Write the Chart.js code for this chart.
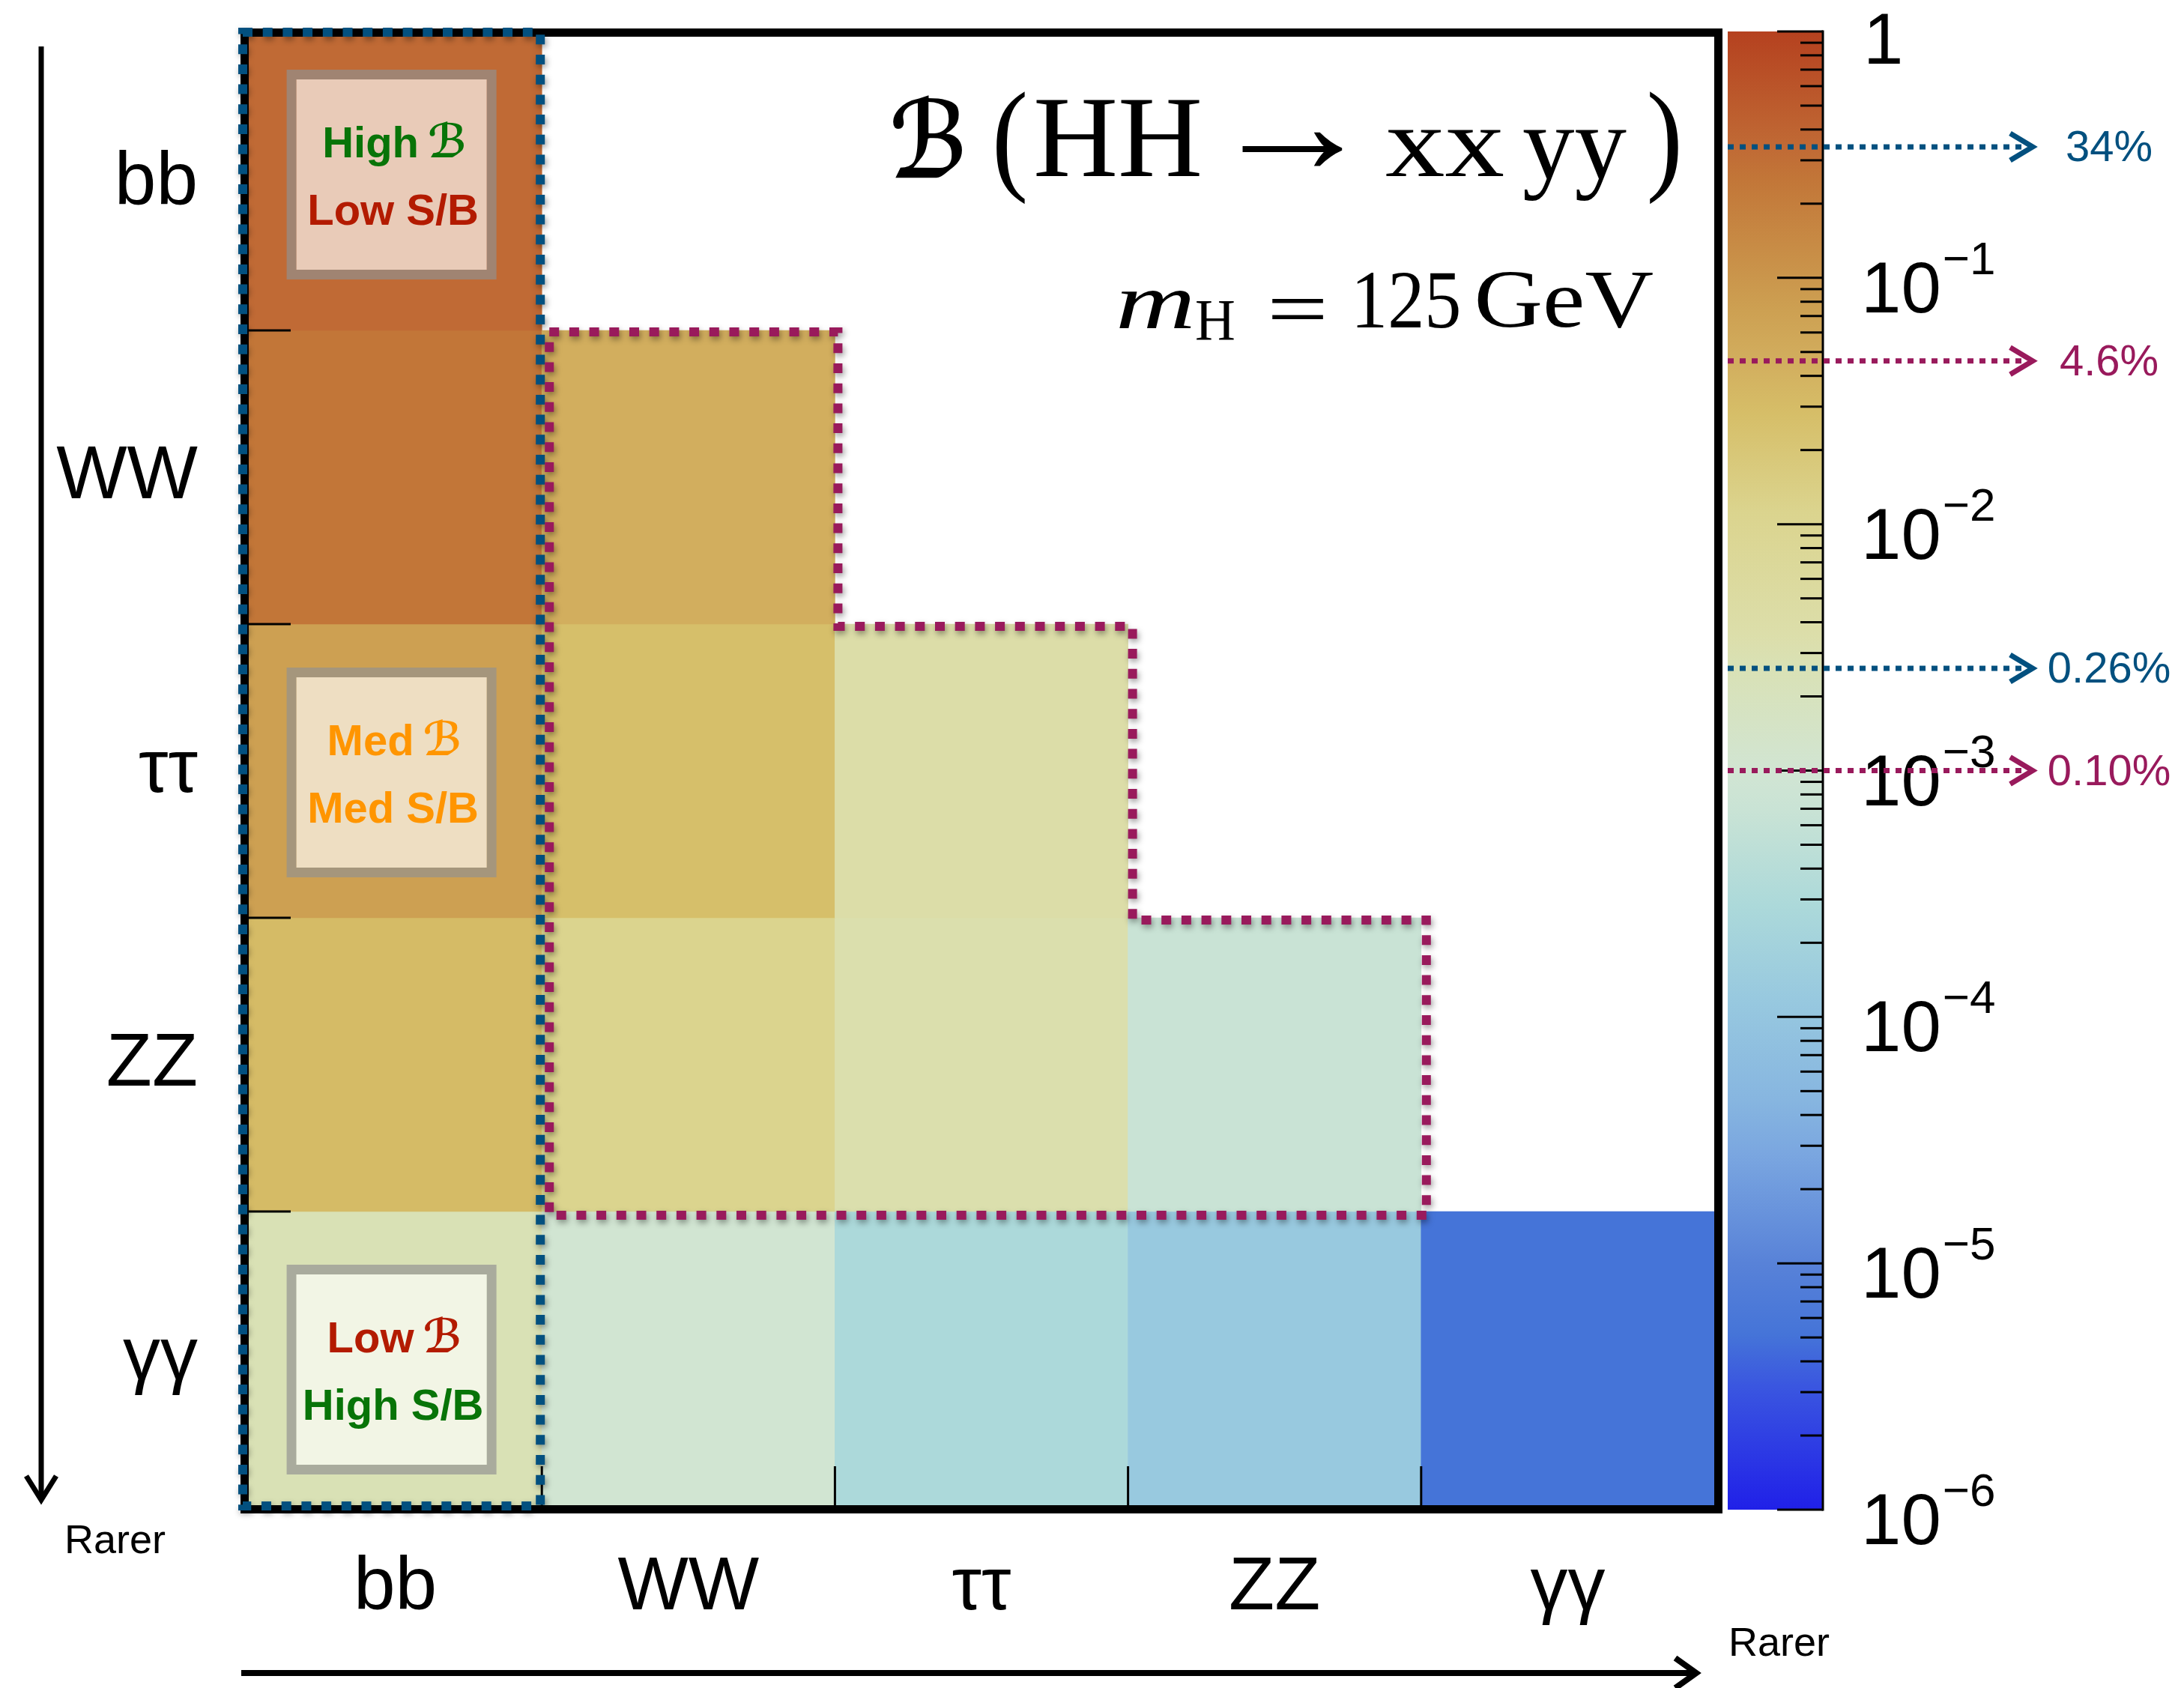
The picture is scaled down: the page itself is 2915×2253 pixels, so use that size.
<!DOCTYPE html>
<html>
<head>
<meta charset="utf-8">
<title>Branching ratios of HH → xx yy</title>
<script src="https://cdn.jsdelivr.net/npm/chart.js@4.4.1/dist/chart.umd.min.js"></script>
<style>
  html, body { margin: 0; padding: 0; background: #ffffff; }
  #wrap { position: relative; width: 2915px; height: 2253px; background: #ffffff; }
  #wrap canvas { position: absolute; left: 0; top: 0; }
</style>
</head>
<body>
<div id="wrap">
  <canvas id="matrix" width="2915" height="2253" style="width:2915px;height:2253px"></canvas>
  <canvas id="colorbar" width="2915" height="2253" style="width:2915px;height:2253px"></canvas>
</div>
<script>
// ---- data -------------------------------------------------------------
// decay channels of a single Higgs boson (columns and rows)
const decays = ['bb', 'WW', 'ττ', 'ZZ', 'γγ'];

// B(HH -> row decay + column decay); row i holds columns 0..i
const brRowBB     = [0.34];
const brRowWW     = [0.25, 0.046];
const brRowTauTau = [0.073, 0.027, 0.0039];
const brRowZZ     = [0.031, 0.011, 0.0033, 0.00069];
const brRowGamGam = [0.0026, 0.0010, 0.00028, 0.00012, 0.0000052];
const brRows = [brRowBB, brRowWW, brRowTauTau, brRowZZ, brRowGamGam];

// colour-bar decades (exponents of ten) and the marked values beside it
const colorbarDecades = [0, -1, -2, -3, -4, -5, -6];
const markerValues = [0.34, 0.046, 0.0026, 0.0010];
const markerLabels = ['34%', '4.6%', '0.26%', '0.10%'];

// notes written into the bb column
const noteRows   = [0, 2, 4];
const noteWords  = ['High', 'Med', 'Low'];
const noteSB     = ['Low S/B', 'Med S/B', 'High S/B'];

// ---- styling ----------------------------------------------------------
const SANS   = '"Liberation Sans", Arial, Helvetica, sans-serif';
const SERIF  = '"Liberation Serif", "Times New Roman", serif';
const SCRIPT = '"DejaVu Serif", "DejaVu Sans", serif';
const GREEN = '#087408', RED = '#b31b00', ORANGE = '#ff9500';
const BLUE_DOT = '#02507f', MAGENTA_DOT = '#991a5c';
const markerColors = [BLUE_DOT, MAGENTA_DOT, BLUE_DOT, MAGENTA_DOT];
const noteWordColor = [GREEN, ORANGE, RED];
const noteSBColor   = [RED, ORANGE, GREEN];
const noteShift     = [-12, 2, 15];

// colour map: log10(value) -> rgb
const cmapLog = [0, -0.47, -0.60, -1.13, -1.34, -1.55, -1.95, -2.45, -2.58, -3.01, -3.16, -3.55, -3.92, -4.33, -4.56, -5.0, -5.29, -5.5, -6.0];
const cmapRGB = [
  [181, 65, 31], [192, 106, 53], [194, 118, 56], [205, 160, 82], [210, 174, 94],
  [214, 190, 104], [219, 212, 142], [220, 222, 170], [217, 225, 181], [209, 229, 211],
  [201, 227, 213], [172, 217, 218], [152, 201, 223], [135, 182, 224], [122, 166, 224],
  [88, 130, 216], [69, 116, 216], [58, 86, 224], [32, 32, 232]
];
function rgbAtLog(l) {
  if (l >= cmapLog[0]) return cmapRGB[0];
  for (let i = 1; i < cmapLog.length; i++) {
    if (l >= cmapLog[i]) {
      const t = (cmapLog[i - 1] - l) / (cmapLog[i - 1] - cmapLog[i]);
      return cmapRGB[i - 1].map((c, k) => c + (cmapRGB[i][k] - c) * t);
    }
  }
  return cmapRGB[cmapRGB.length - 1];
}
function colorFor(v) {
  const c = rgbAtLog(Math.log10(v));
  return 'rgb(' + c.map(Math.round).join(',') + ')';
}

// draws text so that its inked extent fills the box x0..x1, y0..y1
function fitBox(ctx, text, x0, x1, y0, y1, font, color) {
  ctx.save();
  ctx.font = font;
  ctx.fillStyle = color;
  ctx.textAlign = 'left';
  ctx.textBaseline = 'alphabetic';
  const m = ctx.measureText(text);
  const w = m.actualBoundingBoxLeft + m.actualBoundingBoxRight;
  const h = m.actualBoundingBoxAscent + m.actualBoundingBoxDescent;
  ctx.translate(x0, y0);
  ctx.scale((x1 - x0) / w, (y1 - y0) / h);
  ctx.fillText(text, m.actualBoundingBoxLeft, m.actualBoundingBoxAscent);
  ctx.restore();
}

function arrowHead(ctx, tipX, tipY, dx, dy, halfW, len) {
  // open chevron pointing along (dx, dy)
  const px = -dy, py = dx;
  ctx.beginPath();
  ctx.moveTo(tipX - dx * len + px * halfW, tipY - dy * len + py * halfW);
  ctx.lineTo(tipX, tipY);
  ctx.lineTo(tipX - dx * len - px * halfW, tipY - dy * len - py * halfW);
  ctx.stroke();
}

// ---- matrix chart -----------------------------------------------------
const matrixDecor = {
  id: 'matrixDecor',
  afterDatasetsDraw(chart) {
    const ctx = chart.ctx;
    const a = chart.chartArea;
    const xs = chart.scales.x, ys = chart.scales.y;
    const colEdge = i => (xs.getPixelForValue(i - 1) + xs.getPixelForValue(i)) / 2;
    const colL = i => (i === 0 ? a.left : colEdge(i));
    const colR = i => (i === decays.length - 1 ? a.right : colEdge(i + 1));
    const rowY = v => ys.getPixelForValue(v);

    ctx.save();
    // inward tick marks at the cell boundaries
    ctx.strokeStyle = '#000';
    ctx.lineWidth = 3;
    for (let r = 1; r < decays.length; r++) {
      const y = rowY(r);
      ctx.beginPath(); ctx.moveTo(a.left, y); ctx.lineTo(a.left + 56, y); ctx.stroke();
    }
    for (let c = 1; c < decays.length; c++) {
      const x = colEdge(c);
      ctx.beginPath(); ctx.moveTo(x, a.bottom); ctx.lineTo(x, a.bottom - 52); ctx.stroke();
    }
    // frame
    ctx.lineWidth = 11;
    ctx.strokeRect(a.left - 5.5, a.top - 5.5, a.right - a.left + 11, a.bottom - a.top + 11);

    // notes in the bb column
    const cx = (colL(0) + colR(0)) / 2 - 5;
    noteRows.forEach((r, k) => {
      const cy = (rowY(r) + rowY(r + 1)) / 2 + noteShift[k];
      const half = 140;
      ctx.lineWidth = 13;
      ctx.strokeStyle = 'rgba(145,145,145,0.67)';
      ctx.strokeRect(cx - half + 6.5, cy - half + 6.5, 2 * half - 13, 2 * half - 13);
      ctx.fillStyle = 'rgba(255,255,255,0.65)';
      ctx.fillRect(cx - half + 13, cy - half + 13, 2 * half - 26, 2 * half - 26);

      const wordFont = 'bold 58px ' + SANS;
      ctx.font = wordFont;
      const w1 = ctx.measureText(noteWords[k]).width;
      const gap = 14, bw = 46;
      const x0 = cx + 2 - (w1 + gap + bw) / 2;
      const base1 = cy - 23;
      ctx.textAlign = 'left';
      ctx.textBaseline = 'alphabetic';
      ctx.fillStyle = noteWordColor[k];
      ctx.fillText(noteWords[k], x0, base1);
      fitBox(ctx, 'ℬ', x0 + w1 + gap, x0 + w1 + gap + bw, base1 - 48, base1 + 1,
             'bold italic 62px ' + SCRIPT, noteWordColor[k]);
      ctx.font = wordFont;
      ctx.textAlign = 'center';
      ctx.fillStyle = noteSBColor[k];
      ctx.fillText(noteSB[k], cx + 2, cy + 67);
    });

    // dotted outlines with a soft drop shadow
    ctx.shadowColor = 'rgba(0,0,0,0.4)';
    ctx.shadowBlur = 9;
    ctx.shadowOffsetX = 2;
    ctx.shadowOffsetY = 4;
    ctx.lineWidth = 12;
    ctx.lineCap = 'butt';
    ctx.setLineDash([13, 13.7]);
    // bb column
    ctx.strokeStyle = BLUE_DOT;
    ctx.beginPath();
    ctx.moveTo(a.left - 8, a.top - 6);
    ctx.lineTo(colR(0) - 2, a.top - 6);
    ctx.lineTo(colR(0) - 2, a.bottom + 1);
    ctx.lineTo(a.left - 8, a.bottom + 1);
    ctx.closePath();
    ctx.stroke();
    // WW..ZZ staircase
    ctx.strokeStyle = MAGENTA_DOT;
    ctx.beginPath();
    ctx.moveTo(colL(1) + 10, rowY(1) + 2);
    ctx.lineTo(colR(1) + 4, rowY(1) + 2);
    ctx.lineTo(colR(1) + 4, rowY(2) + 3);
    ctx.lineTo(colR(2) + 6, rowY(2) + 3);
    ctx.lineTo(colR(2) + 6, rowY(3) + 3);
    ctx.lineTo(colR(3) + 7, rowY(3) + 3);
    ctx.lineTo(colR(3) + 7, rowY(4) + 5);
    ctx.lineTo(colL(1) + 10, rowY(4) + 5);
    ctx.closePath();
    ctx.stroke();
    ctx.restore();

    // title: B(HH -> xx yy) and the Higgs mass
    const k = '#000';
    fitBox(ctx, 'ℬ', 1192, 1284, 127, 238, 'bold italic 150px ' + SCRIPT, k);
    fitBox(ctx, '(', 1330, 1368, 122, 273, '165px ' + SERIF, k);
    fitBox(ctx, 'HH', 1383, 1601, 133, 235, '154px ' + SERIF, k);
    fitBox(ctx, '→', 1658, 1792, 176, 222, '154px ' + SERIF, k);
    fitBox(ctx, 'xx', 1850, 2007, 173, 235, '154px ' + SERIF, k);
    fitBox(ctx, 'yy', 2033, 2171, 173, 268, '154px ' + SERIF, k);
    fitBox(ctx, ')', 2202, 2240, 122, 273, '165px ' + SERIF, k);
    fitBox(ctx, 'm', 1494, 1590, 388, 438, 'italic 120px ' + SERIF, k);
    fitBox(ctx, 'H', 1597, 1647, 402, 453, '76px ' + SERIF, k);
    fitBox(ctx, '=', 1697, 1766, 397, 425, '120px ' + SERIF, k);
    fitBox(ctx, '125', 1811, 1947, 363, 438, '112px ' + SERIF, k);
    fitBox(ctx, 'GeV', 1972, 2206, 362, 438, '112px ' + SERIF, k);

    // direction arrows and their captions
    ctx.save();
    ctx.strokeStyle = '#000';
    ctx.fillStyle = '#000';
    ctx.lineWidth = 7;
    ctx.lineJoin = 'miter';
    ctx.beginPath(); ctx.moveTo(55, 62); ctx.lineTo(55, 2000); ctx.stroke();
    arrowHead(ctx, 55, 2002, 0, 1, 20, 32);
    ctx.lineWidth = 8;
    ctx.beginPath(); ctx.moveTo(322, 2233); ctx.lineTo(2262, 2233); ctx.stroke();
    arrowHead(ctx, 2264, 2233, 1, 0, 20, 28);
    ctx.font = '54px ' + SANS;
    ctx.textAlign = 'left';
    ctx.textBaseline = 'alphabetic';
    ctx.fillText('Rarer', 86, 2073);
    ctx.fillText('Rarer', 2307, 2210);
    ctx.restore();
  }
};

const rowDatasets = brRows.map((vals, r) => ({
  label: decays[r],
  data: decays.map((_, c) => (c < vals.length ? [r, r + 1] : null)),
  backgroundColor: decays.map((_, c) => (c < vals.length ? colorFor(vals[c]) : 'rgba(0,0,0,0)')),
  borderWidth: 0,
  barPercentage: 1,
  categoryPercentage: 1,
  grouped: false
}));

new Chart(document.getElementById('matrix'), {
  type: 'bar',
  data: { labels: decays, datasets: rowDatasets },
  options: {
    responsive: false,
    animation: false,
    devicePixelRatio: 1,
    layout: { padding: { top: 49, right: 627, left: 0, bottom: 0 } },
    plugins: { legend: { display: false }, tooltip: { enabled: false } },
    scales: {
      x: {
        type: 'category',
        offset: true,
        grid: { display: false },
        border: { display: false },
        ticks: { color: '#000', font: { family: SANS, size: 100 }, padding: 43, maxRotation: 0, autoSkip: false },
        afterFit: s => { s.height = 244; s.paddingLeft = 0; s.paddingRight = 0; }
      },
      y: {
        type: 'linear',
        min: 0,
        max: 5,
        reverse: true,
        grid: { display: false },
        border: { display: false },
        afterBuildTicks: s => { s.ticks = decays.map((_, i) => ({ value: i + 0.5 })); },
        ticks: { color: '#000', font: { family: SANS, size: 100 }, padding: 60, callback: (v, i) => decays[i] },
        afterFit: s => { s.width = 332; s.paddingTop = 0; s.paddingBottom = 0; }
      }
    }
  },
  plugins: [matrixDecor]
});

// ---- colour bar -------------------------------------------------------
function barGradient(context) {
  const chart = context.chart;
  const ys = chart.scales.y;
  if (!chart.chartArea || !ys) return 'rgba(0,0,0,0)';
  const top = ys.getPixelForValue(1), bottom = ys.getPixelForValue(1e-6);
  const g = chart.ctx.createLinearGradient(0, top, 0, bottom);
  cmapLog.forEach((l, i) => {
    const p = (ys.getPixelForValue(Math.pow(10, l)) - top) / (bottom - top);
    g.addColorStop(Math.min(1, Math.max(0, p)), 'rgb(' + cmapRGB[i].join(',') + ')');
  });
  return g;
}

const colorbarDecor = {
  id: 'colorbarDecor',
  afterDatasetsDraw(chart) {
    const ctx = chart.ctx;
    const a = chart.chartArea;
    const ys = chart.scales.y;
    ctx.save();
    ctx.strokeStyle = '#000';
    ctx.lineWidth = 3;
    ys.ticks.forEach(t => {
      const py = ys.getPixelForValue(t.value);
      const len = t.major ? 61 : 30;
      ctx.beginPath(); ctx.moveTo(a.right, py); ctx.lineTo(a.right - len, py); ctx.stroke();
    });
    ctx.beginPath(); ctx.moveTo(a.right, a.top - 1.5); ctx.lineTo(a.right, a.bottom + 1.5); ctx.stroke();

    // decade labels
    ctx.fillStyle = '#000';
    ctx.textAlign = 'left';
    ctx.textBaseline = 'alphabetic';
    colorbarDecades.forEach(e => {
      const py = ys.getPixelForValue(Math.pow(10, e));
      if (e === 0) {
        ctx.font = '96px ' + SANS;
        ctx.fillText('1', 2487, py + 43);
      } else {
        ctx.font = '96px ' + SANS;
        ctx.fillText('10', 2484, py + 46);
        const w = ctx.measureText('10').width;
        ctx.font = '62px ' + SANS;
        ctx.fillText('\u2212' + (-e), 2484 + w + 2, py - 5);
      }
    });

    // marked values
    markerValues.forEach((v, i) => {
      const py = ys.getPixelForValue(v);
      ctx.strokeStyle = markerColors[i];
      ctx.fillStyle = markerColors[i];
      ctx.lineWidth = 7;
      ctx.setLineDash([8, 8]);
      ctx.beginPath(); ctx.moveTo(a.left, py); ctx.lineTo(2706, py); ctx.stroke();
      ctx.setLineDash([]);
      ctx.lineJoin = 'miter';
      arrowHead(ctx, 2713, py, 1, 0, 18, 30);
      ctx.font = '58px ' + SANS;
      ctx.textAlign = 'center';
      ctx.textBaseline = 'middle';
      ctx.fillText(markerLabels[i], 2815, py + 3);
      ctx.textAlign = 'left';
      ctx.textBaseline = 'alphabetic';
    });
    ctx.restore();
  }
};

new Chart(document.getElementById('colorbar'), {
  type: 'bar',
  data: {
    labels: ['B'],
    datasets: [{
      data: [[1e-6, 1]],
      backgroundColor: barGradient,
      borderWidth: 0,
      barPercentage: 1,
      categoryPercentage: 1
    }]
  },
  options: {
    responsive: false,
    animation: false,
    devicePixelRatio: 1,
    layout: { padding: { left: 2306, right: 482, top: 42, bottom: 238 } },
    plugins: { legend: { display: false }, tooltip: { enabled: false } },
    scales: {
      x: { display: false, offset: true },
      y: {
        type: 'logarithmic',
        position: 'right',
        min: 1e-6,
        max: 1,
        grid: { display: false },
        border: { display: false },
        ticks: { display: false },
        afterBuildTicks: s => {
          const ticks = [];
          colorbarDecades.slice().reverse().forEach(e => {
            for (let d = 1; d <= 9; d++) {
              const v = d * Math.pow(10, e);
              if (v > 1) break;
              ticks.push({ value: v, major: d === 1 });
            }
          });
          s.ticks = ticks;
        },
        afterFit: s => { s.width = 0; s.paddingTop = 0; s.paddingBottom = 0; }
      }
    }
  },
  plugins: [colorbarDecor]
});
</script>
</body>
</html>
